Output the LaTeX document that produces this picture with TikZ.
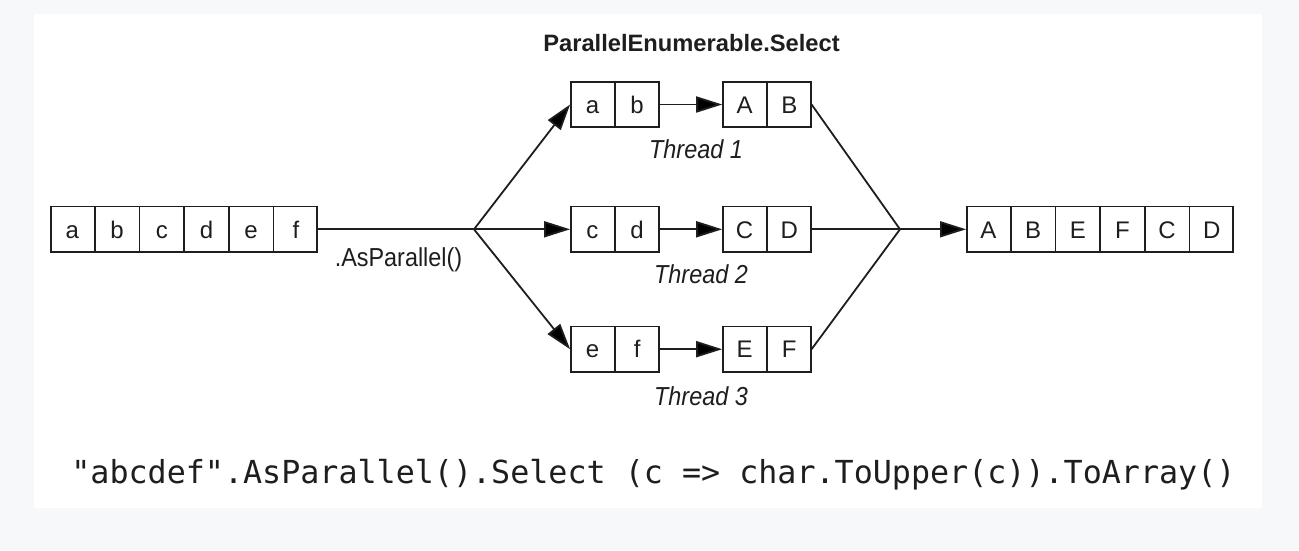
\documentclass[tikz,border=0pt]{standalone}
\usepackage{fontspec}
\setmainfont{Liberation Sans}
\setmonofont{DejaVu Sans Mono}
\newfontfamily\narrowfont[FakeStretch=0.9]{Liberation Sans}
\usetikzlibrary{positioning,shapes.multipart,arrows.meta}

\definecolor{ink}{HTML}{1E1E1E}
\definecolor{pagegray}{HTML}{F7F8FA}
\newcommand\cell[1]{\makebox[42.9pt]{\rule[-14pt]{0pt}{45.5pt}#1}}

\tikzset{
  arr/.style={draw=ink, text=ink, line width=1.8pt, rectangle split, rectangle split horizontal,
    rectangle split parts=#1, rectangle split draw splits, inner sep=0pt,
    font=\fontsize{24}{28}\selectfont},
  link/.style={draw=ink, line width=1.8pt},
  flow/.style={link, -{Triangle[length=26pt,width=16pt]}},
  thread/.style={text=ink, anchor=base, font=\narrowfont\itshape\fontsize{26}{30}\selectfont},
}

\begin{document}
\begin{tikzpicture}[x=1pt,y=1pt,node distance=62.7pt]
\path[use as bounding box, fill=pagegray] (0,0) rectangle (1299,550);
\fill[white] (34,42) rectangle (1262,536);

\node[text=ink, anchor=base, font=\bfseries\fontsize{23.7}{28}\selectfont] (title) at (691.5,498.3) {ParallelEnumerable.Select};

\node[arr=6, anchor=west] (src) at (50,320.7)
  {\cell{a}\nodepart{two}\cell{b}\nodepart{three}\cell{c}\nodepart{four}\cell{d}\nodepart{five}\cell{e}\nodepart{six}\cell{f}};
\coordinate (fork) at (474,320.7);
\node[text=ink, anchor=base, font=\narrowfont\fontsize{26}{30}\selectfont] (asp) at (398.5,284) {.AsParallel()};

\node[arr=2, anchor=west] (t1in) at (570.1,445.5) {\cell{a}\nodepart{two}\cell{b}};
\node[arr=2, right=of t1in] (t1out) {\cell{A}\nodepart{two}\cell{B}};
\node[thread] (t1lab) at (696,391.7) {Thread 1};

\node[arr=2, anchor=west] (t2in) at (570.1,320.7) {\cell{c}\nodepart{two}\cell{d}};
\node[arr=2, right=of t2in] (t2out) {\cell{C}\nodepart{two}\cell{D}};
\node[thread] (t2lab) at (701,266.7) {Thread 2};

\node[arr=2, anchor=west] (t3in) at (570.1,200.8) {\cell{e}\nodepart{two}\cell{f}};
\node[arr=2, right=of t3in] (t3out) {\cell{E}\nodepart{two}\cell{F}};
\node[thread] (t3lab) at (701,145) {Thread 3};

\coordinate (join) at (900,320.7);
\node[arr=6, anchor=west] (res) at (966,320.7)
  {\cell{A}\nodepart{two}\cell{B}\nodepart{three}\cell{E}\nodepart{four}\cell{F}\nodepart{five}\cell{C}\nodepart{six}\cell{D}};

\draw[link] (src.east) -- (fork);
\draw[flow] (fork) -- (t1in.west);
\draw[flow] (fork) -- (t2in.west);
\draw[flow] (fork) -- (t3in.west);
\draw[flow] (t1in.east) -- (t1out.west);
\draw[flow] (t2in.east) -- (t2out.west);
\draw[flow] (t3in.east) -- (t3out.west);
\draw[link] (t1out.east) -- (join);
\draw[link] (t2out.east) -- (join);
\draw[link] (t3out.east) -- (join);
\draw[flow] (join) -- (res.west);

\node[text=ink, anchor=base, font=\ttfamily\fontsize{31.7}{36}\selectfont] (code) at (653.5,66.7)
  {"abcdef".AsParallel().Select (c => char.ToUpper(c)).ToArray()};
\end{tikzpicture}
\end{document}
